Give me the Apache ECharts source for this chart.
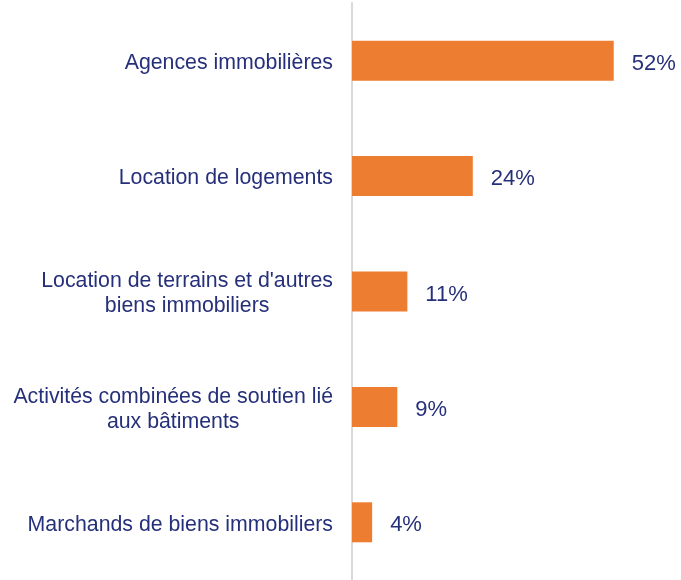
<!DOCTYPE html>
<html>
<head>
<meta charset="utf-8">
<script src="https://cdn.jsdelivr.net/npm/echarts@6/dist/echarts.min.js"></script>
<style>
html,body{margin:0;padding:0;background:#fff;}
#main{width:681px;height:580px;}
</style>
</head>
<body>
<div id="main"></div>
<script>
var categories = [
    'Agences immobilières',
    'Location de logements',
    "Location de terrains et d'autres\nbiens immobiliers",
    'Activités combinées de soutien lié\naux bâtiments',
    'Marchands de biens immobiliers'
];
var values = [52, 24, 11, 9, 4];

var navy = '#26307a';
var myChart = echarts.init(document.getElementById('main'));
var option = {
    animation: false,
    grid: {
        left: 352,
        top: 3,
        width: 302,
        height: 578
    },
    xAxis: {
        type: 'value',
        min: 0,
        max: 60,
        show: false
    },
    yAxis: {
        type: 'category',
        inverse: true,
        data: categories,
        axisLine: { lineStyle: { color: '#d9d9d9', width: 2 } },
        axisTick: { show: false },
        axisLabel: {
            margin: 19,
            padding: [5, 0, 0, 0],
            formatter: function (v) {
                return v.split('\n').map(function (s) {
                    return '{a|' + s + '}';
                }).join('\n');
            },
            rich: {
                a: {
                    align: 'center',
                    fontFamily: 'Liberation Sans, Arial, sans-serif',
                    fontSize: 21.3,
                    lineHeight: 25,
                    color: navy
                }
            }
        }
    },
    series: [{
        type: 'bar',
        data: values,
        barWidth: 40,
        itemStyle: { color: '#ed7d31' },
        label: {
            show: true,
            position: 'right',
            distance: 18,
            offset: [0, 3],
            formatter: '{c}%',
            fontFamily: 'Liberation Sans, Arial, sans-serif',
            fontSize: 22,
            color: navy
        }
    }]
};
myChart.setOption(option);
</script>
</body>
</html>
